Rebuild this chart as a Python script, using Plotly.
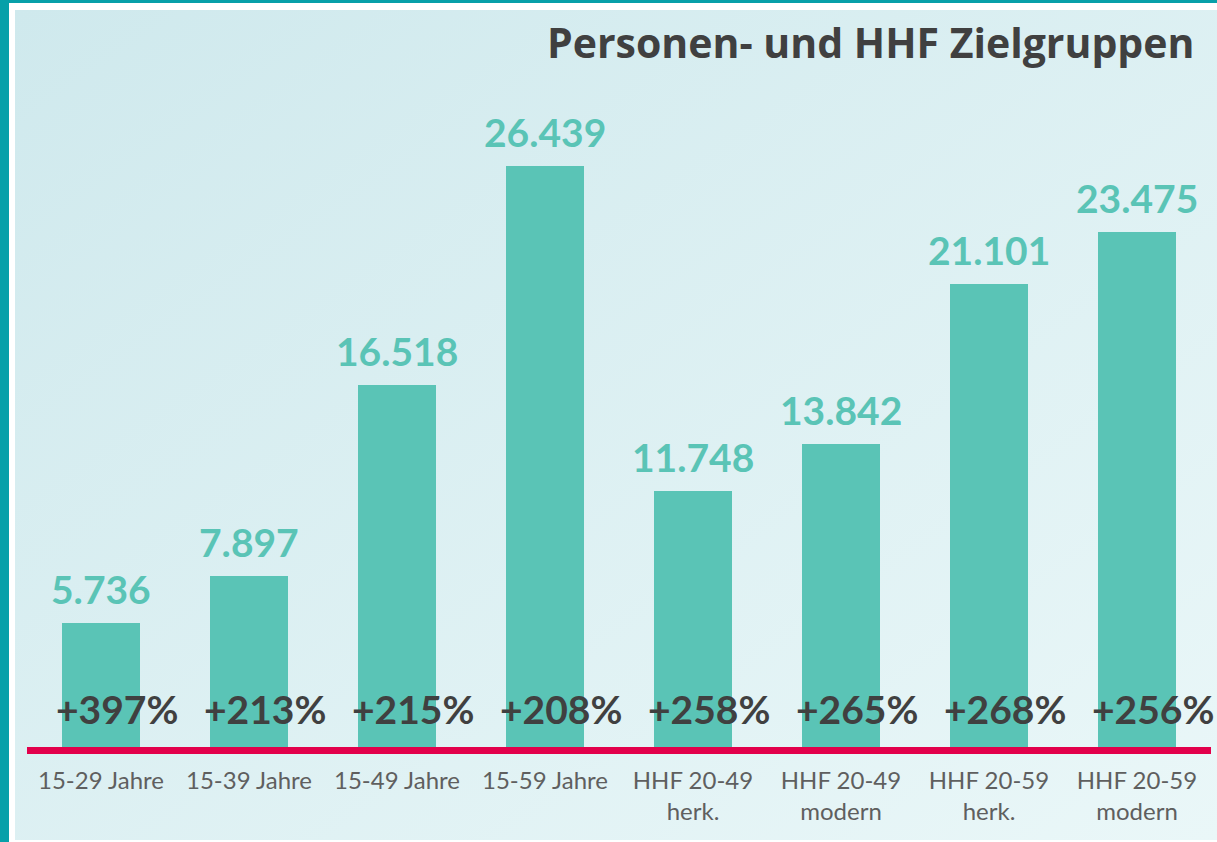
import base64
import plotly.graph_objects as go

categories = ["15-29 Jahre", "15-39 Jahre", "15-49 Jahre", "15-59 Jahre",
              "HHF 20-49<br>herk.", "HHF 20-49<br>modern", "HHF 20-59<br>herk.", "HHF 20-59<br>modern"]
values = [5.736, 7.897, 16.518, 26.439, 11.748, 13.842, 21.101, 23.475]
value_labels = ["5.736", "7.897", "16.518", "26.439", "11.748", "13.842", "21.101", "23.475"]
growth_labels = ["+397%", "+213%", "+215%", "+208%", "+258%", "+265%", "+268%", "+256%"]
title_text = "Personen- und HHF Zielgruppen"

W, H = 1217, 842
ML, MR, MT, MB = 27, 6, 100, 92
PW, PH = W - ML - MR, H - MT - MB

BAR = "#5ac4b6"
DARK = "#404040"
RED = "#e2004b"
TEAL = "#07a0a9"

svg = (
    '<svg xmlns="http://www.w3.org/2000/svg" width="400" height="300" preserveAspectRatio="none">'
    '<defs><linearGradient id="g" x1="0" y1="0" x2="1" y2="1">'
    '<stop offset="0" stop-color="#cfe9ed"/><stop offset="1" stop-color="#eaf7f8"/>'
    '</linearGradient></defs><rect width="400" height="300" fill="url(#g)"/></svg>'
)
bg_uri = "data:image/svg+xml;base64," + base64.b64encode(svg.encode()).decode()

def px_x(p):
    return (p - ML) / PW

def px_y(p):
    return (H - MB - p) / PH

fig = go.Figure()
fig.add_trace(go.Bar(x=list(range(len(values))), y=values, marker=dict(color=BAR, line=dict(width=0)),
                     width=0.527, hoverinfo="skip"))

annotations = []
for i, (v, lab, g) in enumerate(zip(values, value_labels, growth_labels)):
    annotations.append(dict(x=i, y=v, text=lab, showarrow=False, xanchor="center", yanchor="bottom",
                            yshift=9, font=dict(family="Lato", size=39, color=BAR, weight="bold")))
    annotations.append(dict(x=i, y=0, text=g, showarrow=False, xanchor="center", yanchor="middle",
                            xshift=16, yshift=41, font=dict(family="Lato", size=39, color=DARK, weight="bold")))
annotations.append(dict(x=px_x(1196), y=px_y(42), xref="paper", yref="paper", text=title_text,
                        showarrow=False, xanchor="right", yanchor="middle",
                        font=dict(family="Open Sans", size=41, color=DARK, weight="bold")))

shapes = [
    dict(type="rect", xref="paper", yref="paper", x0=0, x1=1, y0=px_y(754), y1=px_y(747),
         fillcolor=RED, line=dict(width=0), layer="above"),
    dict(type="rect", xref="paper", yref="paper", x0=px_x(0), x1=px_x(9), y0=px_y(H), y1=px_y(0),
         fillcolor=TEAL, line=dict(width=0), layer="below"),
    dict(type="rect", xref="paper", yref="paper", x0=px_x(0), x1=px_x(W), y0=px_y(3), y1=px_y(0),
         fillcolor=TEAL, line=dict(width=0), layer="below"),
]

fig.update_layout(
    width=W, height=H,
    margin=dict(l=ML, r=MR, t=MT, b=MB, pad=0),
    paper_bgcolor="white", plot_bgcolor="rgba(0,0,0,0)",
    showlegend=False,
    bargap=0,
    annotations=annotations,
    shapes=shapes,
    images=[dict(source=bg_uri, xref="paper", yref="paper", x=px_x(15), y=px_y(10),
                 sizex=px_x(W) - px_x(15), sizey=px_y(10) - px_y(840),
                 xanchor="left", yanchor="top", sizing="stretch", layer="below")],
    xaxis=dict(range=[-0.5, len(values) - 0.5], tickmode="array", tickvals=list(range(len(values))),
               ticktext=categories, showgrid=False, zeroline=False, showline=False, ticks="",
               ticklabelstandoff=14,
               tickfont=dict(family="Lato", size=24, color="#5f5f5f"), fixedrange=True),
    yaxis=dict(range=[0, PH / 22.08], visible=False, showgrid=False, fixedrange=True),
)

fig.write_html("out.html", config={"displayModeBar": False},
               post_script="document.body.style.margin='0';document.body.style.overflow='hidden';")
